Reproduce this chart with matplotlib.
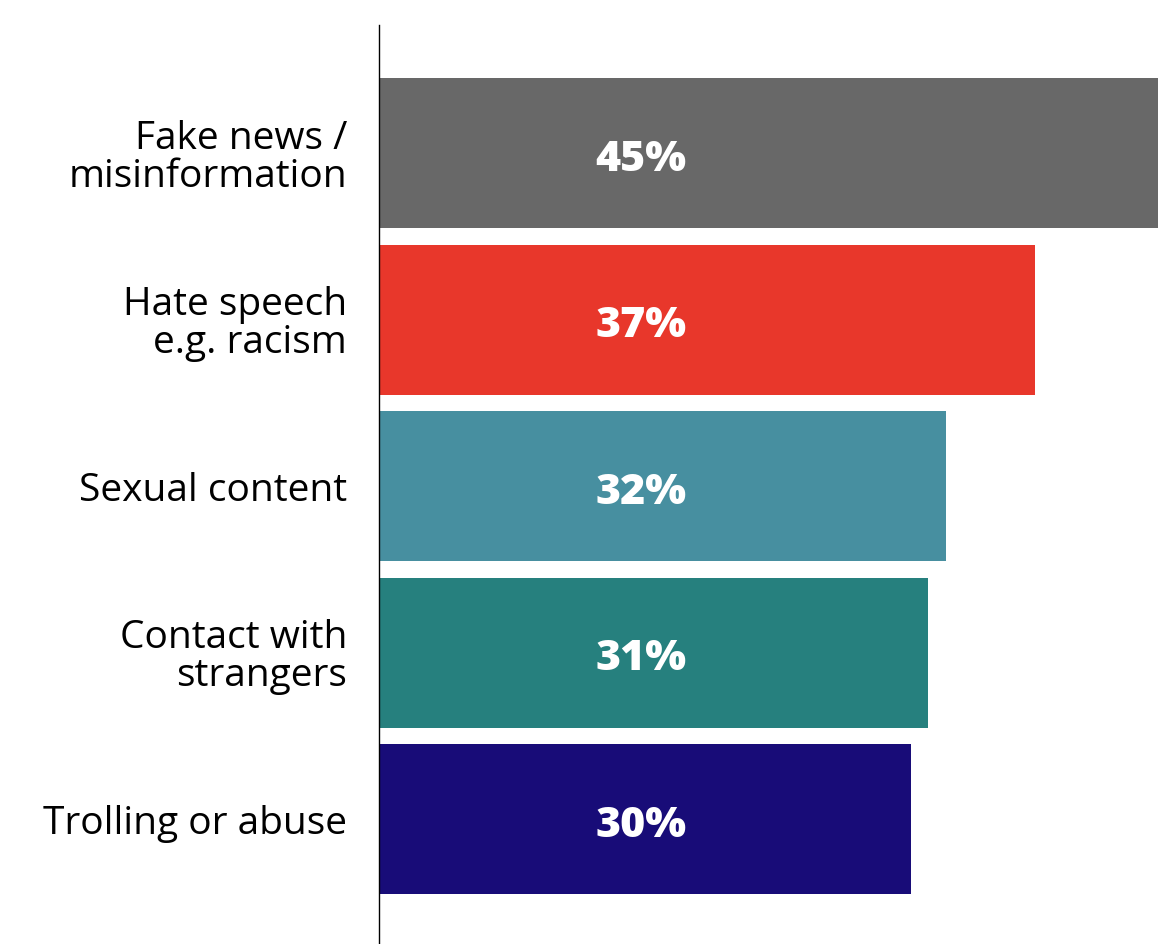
import matplotlib.pyplot as plt

categories = [
    "Fake news /\nmisinformation",
    "Hate speech\ne.g. racism",
    "Sexual content",
    "Contact with\nstrangers",
    "Trolling or abuse",
]
values = [45, 37, 32, 31, 30]
colors = ["#686868", "#E8372B", "#478FA0", "#26807E", "#180C78"]

plt.rcParams["font.family"] = ["Open Sans", "DejaVu Sans"]

fig = plt.figure(figsize=(11.58, 9.44), dpi=100)
ax = fig.add_axes([379 / 1158, 0, 1 - 379 / 1158, 1 - 25 / 944])

pos = list(range(len(categories)))
ax.barh(pos, values, height=0.9, color=colors)

for y, v in zip(pos, values):
    ax.text(14.8, y + 0.04, f"{v}%", ha="center", va="center", color="white",
            fontsize=31, fontweight="heavy")

ax.set_xlim(0, 43.96)
ax.set_ylim(4.75, -0.77)
ax.set_yticks(pos)
ax.set_yticklabels(categories, fontsize=28, ha="right", linespacing=1.0)
ax.tick_params(axis="y", length=0, pad=23)
ax.set_xticks([])
for side in ["top", "right", "bottom"]:
    ax.spines[side].set_visible(False)
ax.spines["left"].set_linewidth(1)
ax.spines["left"].set_color("black")

fig.savefig("out.png", dpi=100)
